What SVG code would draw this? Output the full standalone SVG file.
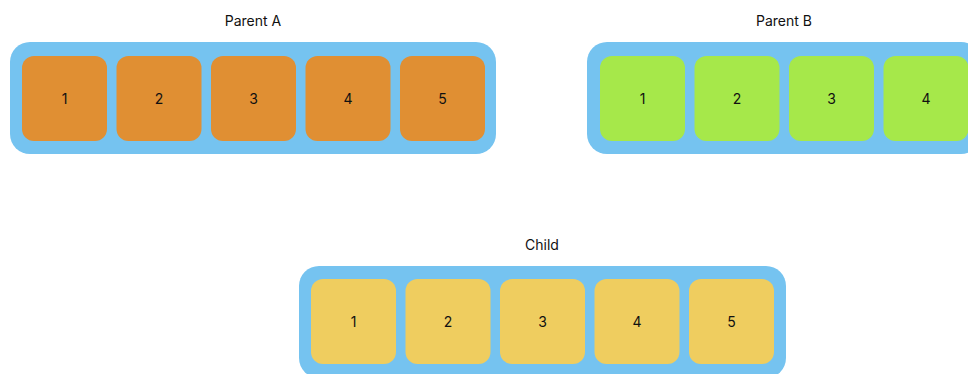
<svg xmlns="http://www.w3.org/2000/svg" width="968" height="374" viewBox="0 0 968 374">
  <style>
    .frame { fill: #75C3F0; }
    .cell { rx: 12px; ry: 12px; }
    .a { fill: #E08F33; }
    .b { fill: #A6E84A; }
    .c { fill: #EFCD5F; }
    text { font-family: Inter, "Liberation Sans", sans-serif; font-size: 14px; fill: #111; text-anchor: middle; }
  </style>
  <rect width="968" height="374" fill="#ffffff"/>

  <!-- Parent A -->
  <g id="parent-a">
    <text x="253" y="26">Parent A</text>
    <rect class="frame" x="10" y="42" width="486" height="112" rx="20"/>
    <rect class="cell a" x="22" y="56" width="85" height="85"/>
    <rect class="cell a" x="116.5" y="56" width="85" height="85"/>
    <rect class="cell a" x="211" y="56" width="85" height="85"/>
    <rect class="cell a" x="305.5" y="56" width="85" height="85"/>
    <rect class="cell a" x="400" y="56" width="85" height="85"/>
    <text x="64.5" y="103.5">1</text>
    <text x="159" y="103.5">2</text>
    <text x="253.5" y="103.5">3</text>
    <text x="348" y="103.5">4</text>
    <text x="442.5" y="103.5">5</text>
  </g>

  <!-- Parent B -->
  <g id="parent-b">
    <text x="784" y="26">Parent B</text>
    <rect class="frame" x="587" y="42" width="394" height="112" rx="20"/>
    <rect class="cell b" x="600" y="56" width="85" height="85"/>
    <rect class="cell b" x="694.5" y="56" width="85" height="85"/>
    <rect class="cell b" x="789" y="56" width="85" height="85"/>
    <rect class="cell b" x="883.5" y="56" width="85" height="85"/>
    <text x="642.5" y="103.5">1</text>
    <text x="737" y="103.5">2</text>
    <text x="831.5" y="103.5">3</text>
    <text x="926" y="103.5">4</text>
  </g>

  <!-- Child -->
  <g id="child">
    <text x="542" y="250">Child</text>
    <rect class="frame" x="299" y="266" width="487" height="112" rx="20"/>
    <rect class="cell c" x="311" y="279" width="85" height="85"/>
    <rect class="cell c" x="405.5" y="279" width="85" height="85"/>
    <rect class="cell c" x="500" y="279" width="85" height="85"/>
    <rect class="cell c" x="594.5" y="279" width="85" height="85"/>
    <rect class="cell c" x="689" y="279" width="85" height="85"/>
    <text x="353.5" y="326.5">1</text>
    <text x="448" y="326.5">2</text>
    <text x="542.5" y="326.5">3</text>
    <text x="637" y="326.5">4</text>
    <text x="731.5" y="326.5">5</text>
  </g>

  <g id="connectors"/>
</svg>
